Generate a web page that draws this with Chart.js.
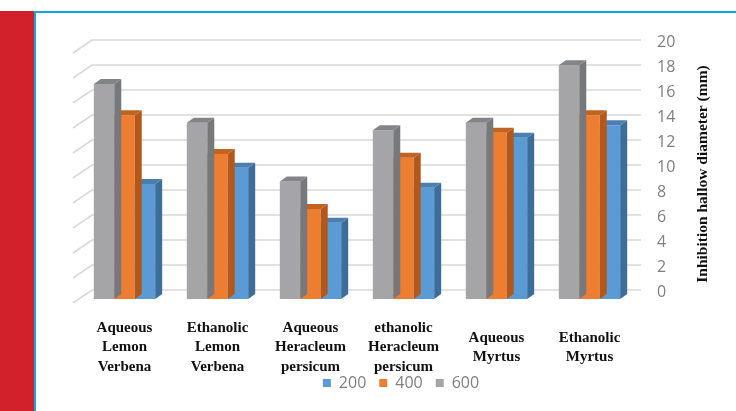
<!DOCTYPE html>
<html>
<head>
<meta charset="utf-8">
<script src="https://cdn.jsdelivr.net/npm/chart.js@4.4.1/dist/chart.umd.min.js"></script>
<style>
  html, body { margin: 0; padding: 0; background: #ffffff; }
  body { width: 736px; height: 411px; position: relative; overflow: hidden; }
  #band { position: absolute; left: 0; top: 11px; width: 34px; height: 400px; background: #d2212a; }
  #lineTop { position: absolute; left: 34px; top: 11px; width: 702px; height: 2px; background: #14a6e0; }
  #lineLeft { position: absolute; left: 34px; top: 11px; width: 2px; height: 400px; background: #14a6e0; }
  #wrap { position: absolute; left: 36px; top: 13px; width: 700px; height: 398px; }
</style>
</head>
<body>
<div id="band"></div>
<div id="lineTop"></div>
<div id="lineLeft"></div>
<div id="wrap"><canvas id="myChart" width="700" height="398"></canvas></div>
<script>
window.onload = function()
{
    var ctx = document.getElementById("myChart").getContext("2d");

    var categories = [
        ["Aqueous", "Lemon", "Verbena"],
        ["Ethanolic", "Lemon", "Verbena"],
        ["Aqueous", "Heracleum", "persicum"],
        ["ethanolic", "Heracleum", "persicum"],
        ["Aqueous", "Myrtus"],
        ["Ethanolic", "Myrtus"]
    ];

    var conc200 = [9.2, 10.5, 6.1, 8.9, 12.9, 13.9];
    var conc400 = [14.7, 11.6, 7.2, 11.3, 13.3, 14.7];
    var conc600 = [17.2, 14.1, 9.4, 13.5, 14.1, 18.7];

    var yTicks = [0, 2, 4, 6, 8, 10, 12, 14, 16, 18, 20];
    var yTitle = "Inhibition hallow diameter (mm)";

    // front, side, top colours for each series
    var shades = {
        "600": ["#a5a5a7", "#77787b", "#838487"],
        "400": ["#ed7d31", "#b3581a", "#c2631f"],
        "200": ["#5b9bd5", "#3d6d9a", "#4a7fb1"]
    };

    var depthX = 7, depthY = 5;       // bar depth
    var backUp = 9;                   // back wall offset above the front scale
    var floorX = 19, floorY = 13;     // diagonal of the floor / side wall

    var threeD = {
        id: 'threeD',
        afterLayout: function(chart)
        {
            // let the category labels run down over the legend band without clipping
            chart.scales.x.bottom = chart.height;
        },
        beforeDatasetsDraw: function(chart)
        {
            var c = chart.ctx;
            var area = chart.chartArea;
            var y = chart.scales.y;
            c.save();
            c.strokeStyle = '#d9d9d9';
            c.lineWidth = 1.6;
            yTicks.forEach(function(v)
            {
                var py = y.getPixelForValue(v) - backUp;
                var lx = area.left + 14;
                c.beginPath();
                c.moveTo(lx - floorX, py + floorY);
                c.lineTo(lx, py);
                c.lineTo(area.right + 5, py);
                c.stroke();
            });
            c.restore();
        },
        afterDatasetDraw: function(chart, args)
        {
            var c = chart.ctx;
            var ds = chart.data.datasets[args.index];
            var sh = shades[ds.label];
            c.save();
            args.meta.data.forEach(function(bar)
            {
                var p = bar.getProps(['x', 'y', 'base', 'width'], true);
                var l = p.x - p.width / 2, r = p.x + p.width / 2;
                // side
                c.fillStyle = sh[1];
                c.beginPath();
                c.moveTo(r, p.y);
                c.lineTo(r + depthX, p.y - depthY);
                c.lineTo(r + depthX, p.base - depthY);
                c.lineTo(r, p.base);
                c.closePath();
                c.fill();
                // top
                c.fillStyle = sh[2];
                c.beginPath();
                c.moveTo(l, p.y);
                c.lineTo(l + depthX, p.y - depthY);
                c.lineTo(r + depthX, p.y - depthY);
                c.lineTo(r, p.y);
                c.closePath();
                c.fill();
            });
            c.restore();
        },
        afterDraw: function(chart)
        {
            var c = chart.ctx;
            var s = chart.scales.y;
            var area = chart.chartArea;
            c.save();
            c.translate(s.left + 67, (area.top + area.bottom) / 2);
            c.rotate(-Math.PI / 2);
            c.fillStyle = '#111111';
            c.font = 'bold 15.5px "Liberation Serif"';
            c.textAlign = 'center';
            c.textBaseline = 'middle';
            c.fillText(yTitle, 0, 0);
            c.restore();
        }
    };

    var myChart = new Chart(ctx,
    {
        type: 'bar',
        data:
        {
            labels: categories,
            datasets:
            [
                { label: '600', data: conc600, backgroundColor: shades["600"][0] },
                { label: '400', data: conc400, backgroundColor: shades["400"][0] },
                { label: '200', data: conc200, backgroundColor: shades["200"][0] }
            ]
        },
        options:
        {
            responsive: false,
            animation: false,
            categoryPercentage: 0.66,
            barPercentage: 1.0,
            layout: { padding: { left: 42, right: 12, top: 36, bottom: 10 } },
            plugins:
            {
                tooltip: { enabled: false },
                legend:
                {
                    position: 'bottom',
                    reverse: true,
                    labels:
                    {
                        boxWidth: 8,
                        boxHeight: 8,
                        padding: 13,
                        color: '#7f7f7f',
                        font: { family: '"Open Sans"', size: 16 }
                    }
                }
            },
            scales:
            {
                x:
                {
                    grid: { display: false, drawTicks: false },
                    border: { display: false },
                    ticks:
                    {
                        padding: 29,
                        crossAlign: 'center',
                        color: '#111111',
                        font: { family: '"Liberation Serif"', size: 15, weight: 'bold', lineHeight: 1.3 }
                    },
                    afterFit: function(s) { s.height = 63; }
                },
                y:
                {
                    position: 'right',
                    min: 0,
                    max: 20,
                    grid: { display: false, drawTicks: false },
                    border: { display: false },
                    ticks:
                    {
                        stepSize: 2,
                        padding: 21,
                        labelOffset: -7,
                        color: '#7f7f7f',
                        font: { family: '"Open Sans"', size: 16 }
                    },
                    afterFit: function(s) { s.width = 88; }
                }
            }
        },
        plugins: [threeD]
    });
};
</script>
</body>
</html>
